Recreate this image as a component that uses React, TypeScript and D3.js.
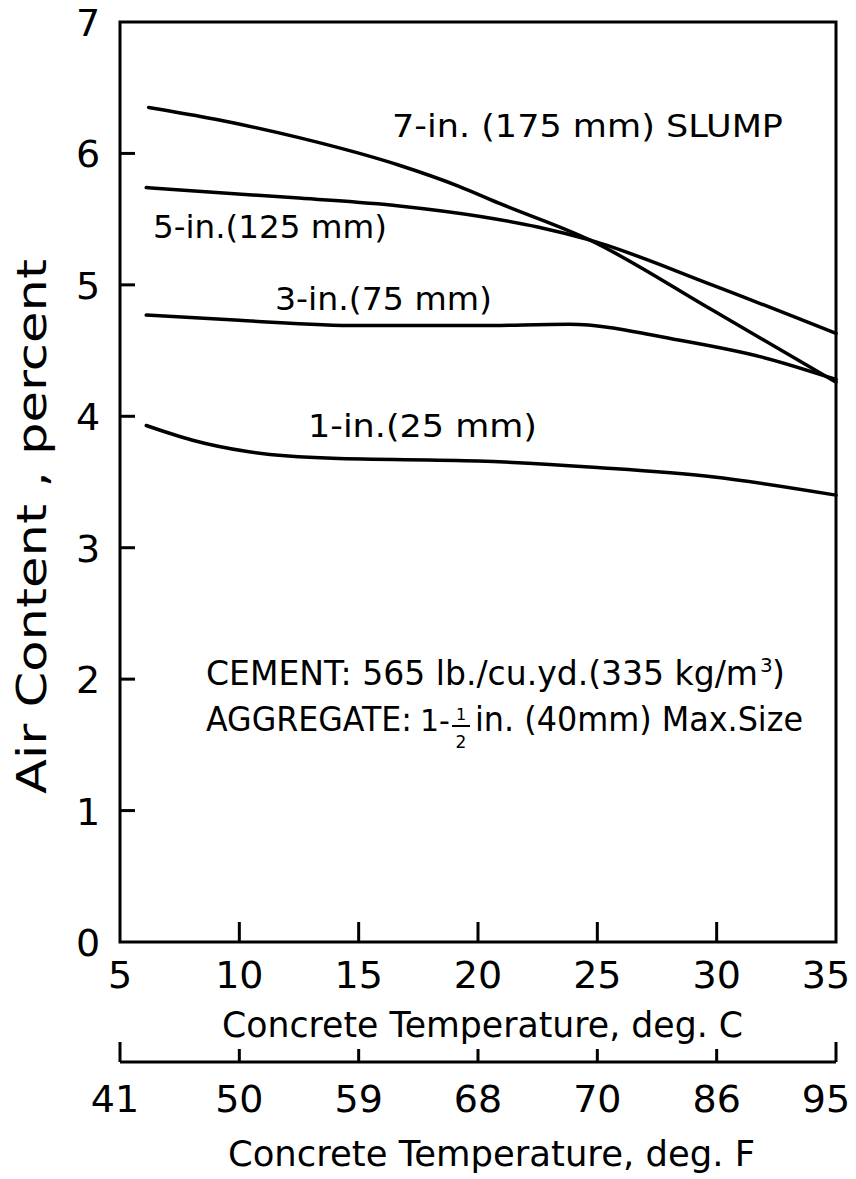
import React from 'react';
import * as d3 from 'd3';

// Axis ticks and labels
const celsiusTicks = [5, 10, 15, 20, 25, 30, 35];
const fahrenheitLabels = ['41', '50', '59', '68', '70', '86', '95'];
const airTicks = [0, 1, 2, 3, 4, 5, 6, 7];

// Air content (percent) against concrete temperature (deg. C), one series per slump
const slump7in: [number, number][] = [
  [6.2, 6.35], [9, 6.26], [12.5, 6.12], [16.7, 5.91], [19.2, 5.75],
  [20.9, 5.62], [24.7, 5.34], [29.8, 4.81], [35, 4.26],
];
const slump5in: [number, number][] = [
  [6.1, 5.74], [12.5, 5.66], [16.7, 5.6], [20.1, 5.52], [22.5, 5.44],
  [24.7, 5.34], [29.8, 5.0], [35, 4.63],
];
const slump3in: [number, number][] = [
  [6.1, 4.77], [10, 4.73], [15, 4.69], [20, 4.69], [23.8, 4.7],
  [28.4, 4.58], [31.9, 4.45], [35, 4.28],
];
const slump1in: [number, number][] = [
  [6.1, 3.93], [8, 3.82], [10.4, 3.73], [13.9, 3.68], [20, 3.66],
  [25, 3.61], [29.8, 3.54], [35, 3.4],
];

const seriesList = [slump7in, slump5in, slump3in, slump1in];

const W = 856;
const H = 1179;
const FONT = '"DejaVu Sans", "Liberation Sans", sans-serif';

export default function App() {
  const x = d3.scaleLinear().domain([5, 35]).range([120, 836]);
  const y = d3.scaleLinear().domain([0, 7]).range([942, 22]);
  const line = d3
    .line<[number, number]>()
    .x((d) => x(d[0]))
    .y((d) => y(d[1]))
    .curve(d3.curveMonotoneX);

  const x0 = x(5);
  const x1 = x(35);
  const y0 = y(0);
  const y1 = y(7);
  const fAxisY = 1062;

  return (
    <svg
      width={W}
      height={H}
      style={{ position: 'absolute', left: 0, top: 0, background: '#fff' }}
      fontFamily={FONT}
    >
      <rect x={0} y={0} width={W} height={H} fill="#fff" />

      {/* plot frame */}
      <rect x={x0} y={y1} width={x1 - x0} height={y0 - y1} fill="none" stroke="#000" strokeWidth={3} />

      {/* inward ticks on the y axis */}
      {airTicks.slice(1, -1).map((t) => (
        <line key={'yt' + t} x1={x0} x2={x0 + 15} y1={y(t)} y2={y(t)} stroke="#000" strokeWidth={3} />
      ))}
      {airTicks.map((t) => (
        <text key={'yl' + t} x={88} y={y(t) + 14} fontSize={38} textAnchor="middle" fill="#000">
          {t}
        </text>
      ))}

      {/* inward ticks on the Celsius axis */}
      {celsiusTicks.slice(1, -1).map((t) => (
        <line key={'xt' + t} x1={x(t)} x2={x(t)} y1={y0} y2={y0 - 20} stroke="#000" strokeWidth={3} />
      ))}
      {celsiusTicks.map((t, i) => (
        <text
          key={'xl' + t}
          x={x(t) - (i === celsiusTicks.length - 1 ? 10 : 0)}
          y={988}
          fontSize={38}
          textAnchor="middle"
          fill="#000"
        >
          {t}
        </text>
      ))}
      <text x={222} y={1037} fontSize={36} textLength={521} lengthAdjust="spacingAndGlyphs" fill="#000">
        Concrete Temperature, deg. C
      </text>

      {/* Fahrenheit scale */}
      <line x1={x0} x2={x1} y1={fAxisY} y2={fAxisY} stroke="#000" strokeWidth={3} />
      {celsiusTicks.map((t, i) => {
        const end = i === 0 || i === celsiusTicks.length - 1;
        return (
          <line
            key={'ft' + t}
            x1={x(t)}
            x2={x(t)}
            y1={fAxisY}
            y2={fAxisY - (end ? 20 : 13)}
            stroke="#000"
            strokeWidth={3}
          />
        );
      })}
      {fahrenheitLabels.map((lab, i) => (
        <text
          key={'fl' + lab}
          x={x(celsiusTicks[i]) + (i === 0 ? -5 : i === fahrenheitLabels.length - 1 ? -10 : 0)}
          y={1112}
          fontSize={38}
          textAnchor="middle"
          fill="#000"
        >
          {lab}
        </text>
      ))}
      <text x={228} y={1166} fontSize={36} textLength={527} lengthAdjust="spacingAndGlyphs" fill="#000">
        Concrete Temperature, deg. F
      </text>

      {/* y axis title */}
      <text
        transform={`translate(46, ${(259 + 794) / 2}) rotate(-90)`}
        fontSize={40}
        textAnchor="middle"
        textLength={535}
        lengthAdjust="spacingAndGlyphs"
        fill="#000"
      >
        Air Content , percent
      </text>

      {/* slump curves */}
      {seriesList.map((s, i) => (
        <path key={'s' + i} d={line(s) || ''} fill="none" stroke="#000" strokeWidth={3.5} strokeLinecap="round" />
      ))}

      {/* curve labels */}
      <text x={392} y={137} fontSize={32} textLength={391} lengthAdjust="spacingAndGlyphs" fill="#000">
        7-in. (175 mm)  SLUMP
      </text>
      <text x={153} y={238} fontSize={32} textLength={234} lengthAdjust="spacingAndGlyphs" fill="#000">
        5-in.(125 mm)
      </text>
      <text x={275} y={310} fontSize={32} textLength={217} lengthAdjust="spacingAndGlyphs" fill="#000">
        3-in.(75 mm)
      </text>
      <text x={308} y={437} fontSize={32} textLength={229} lengthAdjust="spacingAndGlyphs" fill="#000">
        1-in.(25 mm)
      </text>

      {/* mix notes */}
      <text x={206} y={685} fontSize={33} textLength={552} lengthAdjust="spacingAndGlyphs" fill="#000">
        CEMENT: 565 lb./cu.yd.(335 kg/m
      </text>
      <text x={760} y={672} fontSize={20} fill="#000">3</text>
      <text x={772} y={685} fontSize={33} fill="#000">)</text>

      <text x={206} y={731} fontSize={33} textLength={206} lengthAdjust="spacingAndGlyphs" fill="#000">
        AGGREGATE:
      </text>
      <text x={420} y={731} fontSize={30} fill="#000">1-</text>
      <text x={461} y={720} fontSize={16} textAnchor="middle" fill="#000">1</text>
      <line x1={452} x2={470} y1={726} y2={726} stroke="#000" strokeWidth={2} />
      <text x={461} y={748} fontSize={17} textAnchor="middle" fill="#000">2</text>
      <text x={475} y={731} fontSize={33} textLength={328} lengthAdjust="spacingAndGlyphs" fill="#000">
        in. (40mm) Max.Size
      </text>
    </svg>
  );
}
